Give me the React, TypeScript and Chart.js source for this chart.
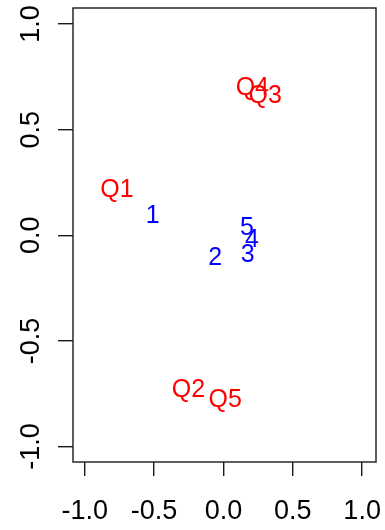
import React, { useEffect, useRef } from "react";
import { Chart, registerables } from "chart.js";

Chart.register(...registerables);

const questionLabels = ["Q1", "Q2", "Q3", "Q4", "Q5"];
const questionX = [-0.768, -0.252, 0.301, 0.208, 0.013];
const questionY = [0.216, -0.731, 0.657, 0.699, -0.778];

const itemLabels = ["1", "2", "3", "4", "5"];
const itemX = [-0.51, -0.059, 0.174, 0.206, 0.169];
const itemY = [0.089, -0.107, -0.092, -0.021, 0.032];

const xTicks = [-1.0, -0.5, 0.0, 0.5, 1.0];
const yTicks = [-1.0, -0.5, 0.0, 0.5, 1.0];
const xRange = [-1.085, 1.1];
const yRange = [-1.073, 1.076];

const FONT = '"Liberation Sans", Arial, sans-serif';

const textLabelsPlugin = {
  id: "textLabels",
  afterDatasetsDraw(chart: any) {
    const ctx = chart.ctx;
    ctx.save();
    ctx.font = `25px ${FONT}`;
    ctx.textAlign = "center";
    ctx.textBaseline = "middle";
    chart.data.datasets.forEach((ds: any, i: number) => {
      const meta = chart.getDatasetMeta(i);
      ctx.fillStyle = ds.textColor;
      meta.data.forEach((pt: any, j: number) => {
        ctx.fillText(ds.textLabels[j], pt.x, pt.y);
      });
    });
    ctx.restore();
  },
};

const boxPlugin = {
  id: "box",
  afterDraw(chart: any) {
    const { ctx, chartArea } = chart;
    ctx.save();
    ctx.strokeStyle = "#1a1a1a";
    ctx.lineWidth = 1.4;
    ctx.strokeRect(chartArea.left, chartArea.top, chartArea.right - chartArea.left, chartArea.bottom - chartArea.top);
    // rotated y tick labels
    const yScale = chart.scales.y;
    ctx.fillStyle = "#000";
    ctx.font = `27px ${FONT}`;
    ctx.textAlign = "center";
    ctx.textBaseline = "alphabetic";
    yTicks.forEach((v) => {
      const py = yScale.getPixelForValue(v);
      ctx.save();
      ctx.translate(39, py);
      ctx.rotate(-Math.PI / 2);
      ctx.fillText(v.toFixed(1), 0, 0);
      ctx.restore();
    });
    ctx.restore();
  },
};

export default function App() {
  const ref = useRef<HTMLCanvasElement>(null);
  useEffect(() => {
    if (!ref.current) return;
    const chart = new Chart(ref.current, {
      type: "scatter",
      data: {
        datasets: [
          {
            data: questionX.map((x, i) => ({ x, y: questionY[i] })),
            pointRadius: 0,
            textLabels: questionLabels,
            textColor: "#FF0000",
          } as any,
          {
            data: itemX.map((x, i) => ({ x, y: itemY[i] })),
            pointRadius: 0,
            textLabels: itemLabels,
            textColor: "#0000FF",
          } as any,
        ],
      },
      options: {
        animation: false,
        responsive: false,
        maintainAspectRatio: false,
        layout: { padding: { top: 8, right: 9, left: 0, bottom: 0 } },
        plugins: { legend: { display: false }, tooltip: { enabled: false } },
        scales: {
          x: {
            type: "linear",
            min: xRange[0],
            max: xRange[1],
            afterBuildTicks: (scale: any) => {
              scale.ticks = xTicks.map((v) => ({ value: v }));
            },
            afterFit: (scale: any) => {
              scale.height = 68;
              scale.paddingLeft = 0;
              scale.paddingRight = 0;
            },
            border: { display: false },
            grid: {
              drawOnChartArea: false,
              drawTicks: true,
              tickLength: 14,
              color: "#1a1a1a",
              lineWidth: 1.4,
            },
            ticks: {
              color: "#000",
              font: { size: 27, family: FONT },
              padding: 19,
              maxRotation: 0,
              autoSkip: false,
              callback: (v: any) => Number(v).toFixed(1),
            },
          },
          y: {
            type: "linear",
            min: yRange[0],
            max: yRange[1],
            afterBuildTicks: (scale: any) => {
              scale.ticks = yTicks.map((v) => ({ value: v }));
            },
            afterFit: (scale: any) => {
              scale.width = 73;
              scale.paddingTop = 0;
              scale.paddingBottom = 0;
            },
            border: { display: false },
            grid: {
              drawOnChartArea: false,
              drawTicks: true,
              tickLength: 15,
              color: "#1a1a1a",
              lineWidth: 1.4,
            },
            ticks: { display: false },
          },
        },
      } as any,
      plugins: [textLabelsPlugin, boxPlugin],
    });
    return () => chart.destroy();
  }, []);
  return (
    <div style={{ position: "fixed", left: 0, top: 0, width: 385, height: 530, background: "#fff" }}>
      <canvas ref={ref} width={385} height={530} style={{ display: "block" }} />
    </div>
  );
}
